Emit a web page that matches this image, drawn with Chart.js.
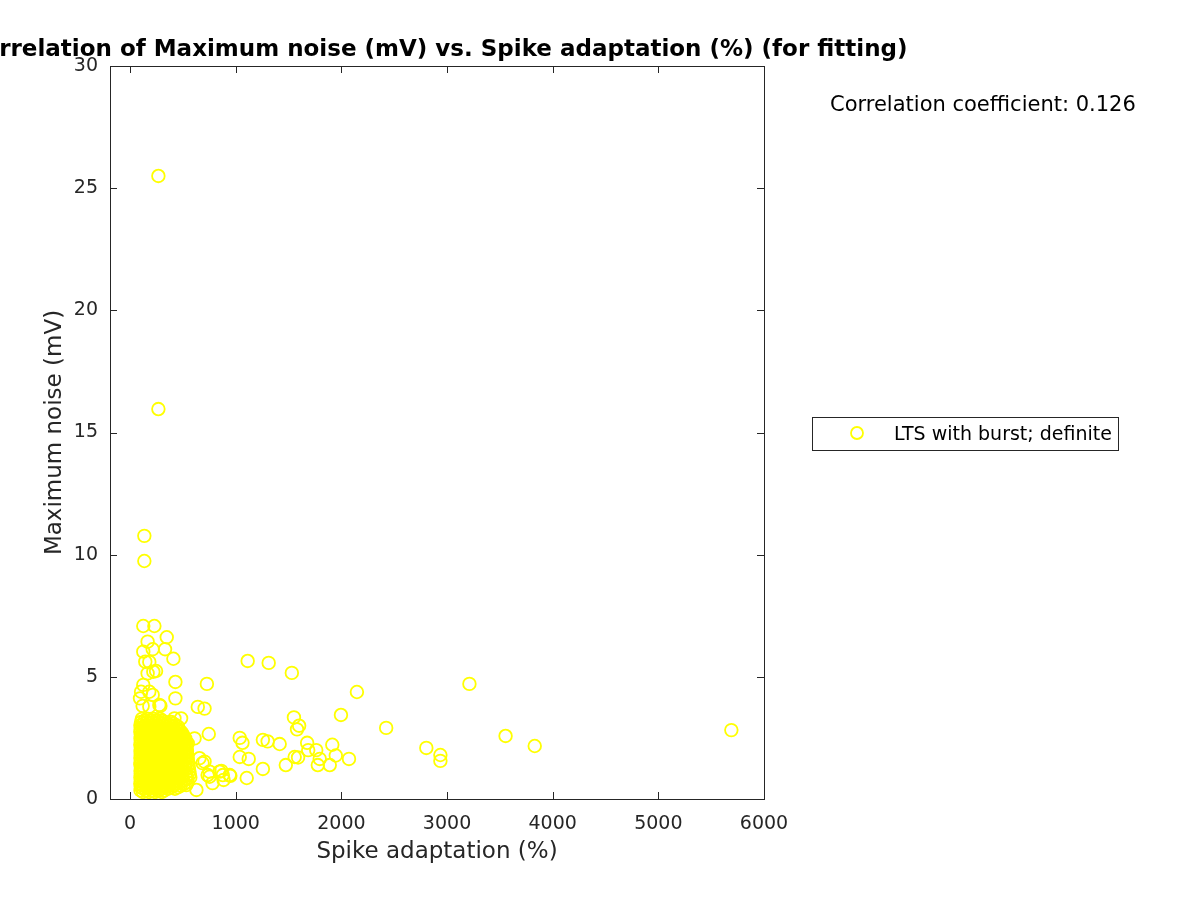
<!DOCTYPE html>
<html>
<head>
<meta charset="utf-8">
<script src="https://cdn.jsdelivr.net/npm/chart.js@4.4.0/dist/chart.umd.min.js"></script>
<style>
  html, body { margin: 0; padding: 0; background: #fff; }
  #wrap { width: 1200px; height: 900px; }
</style>
</head>
<body>
<div id="wrap"><canvas id="corrChart" width="1200" height="900"></canvas></div>
<script>
// axis setup
const xTicks = [0, 1000, 2000, 3000, 4000, 5000, 6000];
const yTicks = [0, 5, 10, 15, 20, 25, 30];
const xRange = [-190, 6000];
const yRange = [0, 30];

const titleText = 'Correlation of Maximum noise (mV) vs. Spike adaptation (%) (for fitting)';
const xLabel = 'Spike adaptation (%)';
const yLabel = 'Maximum noise (mV)';
const seriesLabel = 'LTS with burst; definite';
const corrText = 'Correlation coefficient: 0.126';

// scattered points
const outlierAdaptation = [
    268, 268, 135, 135, 125, 230, 347, 166, 331, 214,
    125, 410, 144, 182, 220, 166, 246, 429, 727, 125,
    104, 182, 214, 429, 94, 641, 705, 277, 119, 182,
    287, 1113, 1312, 1531, 2147, 3212, 1551, 1600, 1580, 1996,
    2424, 745, 1038, 1064, 1257, 1302, 1416, 1676, 1686, 1762,
    1914, 2804, 2937, 2937, 3554, 3830, 5691, 1038, 1123, 1474,
    1558, 1590, 1777, 1795, 1890, 1947, 2072, 1257, 1104, 943,
    885, 864, 780, 734, 686, 628, 420, 483, 610, 546,
    657, 705, 752, 847, 878, 752, 531, 277, 949
];
const outlierNoise = [
    25.5, 15.96, 10.77, 9.74, 7.08, 7.08, 6.62, 6.44, 6.13, 6.13,
    6.03, 5.74, 5.62, 5.61, 5.21, 5.14, 5.24, 4.79, 4.71, 4.67,
    4.39, 4.39, 4.26, 4.12, 4.12, 3.77, 3.70, 3.85, 3.81, 3.78,
    3.81, 5.65, 5.57, 5.16, 4.38, 4.71, 3.34, 3.00, 2.85, 3.44,
    2.91, 2.66, 2.50, 2.30, 2.42, 2.36, 2.25, 2.30, 2.00, 2.00,
    2.22, 2.09, 1.80, 1.56, 2.58, 2.17, 2.82, 1.72, 1.64, 1.39,
    1.72, 1.70, 1.39, 1.64, 1.39, 1.78, 1.64, 1.23, 0.86, 0.98,
    0.78, 1.15, 0.65, 0.98, 1.47, 0.37, 3.30, 3.30, 2.48, 2.28,
    1.67, 1.53, 1.12, 1.12, 0.98, 0.91, 0.57, 0.37, 0.95
];

// dense cluster near the origin, one row per noise level
const clusterNoise = [
    3.28, 3.21, 3.15, 3.08, 3.02, 2.95, 2.88, 2.82, 2.75, 2.68, 2.62, 2.55,
    2.48, 2.42, 2.35, 2.28, 2.22, 2.15, 2.08, 2.02, 1.95, 1.88, 1.82, 1.75,
    1.68, 1.62, 1.55, 1.48, 1.42, 1.35, 1.28, 1.22, 1.15, 1.08, 1.02, 0.95,
    0.88, 0.82, 0.75, 0.68, 0.62, 0.55, 0.48, 0.42, 0.35, 0.29
];
const clusterAdaptation = [
    [112, 168, 226, 282],
    [138, 196, 250, 305],
    [104, 160, 218, 272, 330, 388],
    [128, 184, 240, 297, 352, 410],
    [98, 150, 207, 263, 318, 376, 432],
    [122, 178, 234, 290, 346, 402, 455],
    [101, 155, 212, 268, 324, 380, 436],
    [127, 183, 240, 296, 352, 408, 462],
    [97, 148, 204, 259, 316, 372, 428, 482],
    [121, 176, 232, 288, 343, 399, 455, 495],
    [103, 157, 213, 270, 326, 382, 437, 488],
    [126, 182, 238, 293, 350, 405, 462, 510],
    [99, 151, 208, 263, 319, 375, 431, 486, 522],
    [123, 179, 235, 291, 347, 403, 458, 505],
    [102, 156, 211, 267, 323, 379, 434, 490, 528],
    [127, 183, 238, 294, 350, 406, 461, 515],
    [97, 150, 206, 262, 318, 374, 430, 485, 532],
    [121, 177, 233, 289, 345, 401, 457, 510],
    [103, 158, 214, 269, 325, 381, 437, 492, 535],
    [125, 181, 237, 292, 348, 404, 460, 518],
    [99, 152, 208, 264, 320, 376, 432, 487, 538],
    [122, 178, 234, 290, 346, 402, 458, 512],
    [101, 156, 212, 268, 324, 380, 436, 491, 540],
    [126, 182, 238, 294, 350, 406, 462, 520],
    [98, 150, 206, 262, 318, 374, 430, 486, 545],
    [123, 179, 235, 291, 347, 403, 459, 515],
    [102, 157, 213, 269, 325, 381, 437, 493, 548],
    [127, 183, 239, 295, 351, 407, 463, 522],
    [97, 151, 207, 263, 319, 375, 431, 488, 552],
    [121, 177, 233, 289, 345, 401, 457, 516],
    [103, 158, 214, 270, 326, 382, 438, 495, 556],
    [125, 181, 237, 293, 349, 405, 462, 525],
    [99, 152, 208, 264, 320, 376, 432, 490, 560],
    [122, 178, 234, 290, 346, 402, 459, 530],
    [101, 156, 212, 268, 324, 380, 437, 497, 565],
    [126, 182, 238, 294, 350, 407, 466, 535],
    [98, 150, 206, 262, 318, 375, 433, 494, 570],
    [123, 179, 235, 291, 347, 405, 465, 540],
    [102, 157, 213, 269, 325, 382, 442, 505],
    [127, 183, 239, 295, 352, 412, 475, 545],
    [97, 151, 207, 263, 320, 378, 440, 510],
    [121, 177, 233, 290, 348, 410, 480],
    [103, 158, 214, 270, 330, 392, 455],
    [125, 181, 238, 296, 358, 425],
    [99, 152, 208, 265, 325],
    [122, 178, 236, 300]
];

const markerColor = '#ffff00';
const axisColor = '#262626';
const fontFamily = '"DejaVu Sans", "Liberation Sans", sans-serif';

const points = [];
outlierAdaptation.forEach(function(x, i) {
    points.push({ x: x, y: outlierNoise[i] });
});
clusterNoise.forEach(function(y, r) {
    clusterAdaptation[r].forEach(function(x) {
        points.push({ x: x, y: y });
    });
});

// box, inward ticks, title, legend and the correlation note
const matlabDecor = {
    id: 'matlabDecor',
    afterDatasetsDraw(chart) {
        const ctx = chart.ctx;
        const a = chart.chartArea;
        const xs = chart.scales.x;
        const ys = chart.scales.y;
        const tickLen = 7;

        ctx.save();
        ctx.strokeStyle = axisColor;
        ctx.lineWidth = 1;
        ctx.strokeRect(a.left + 0.5, a.top + 0.5, a.right - a.left, a.bottom - a.top);

        ctx.beginPath();
        xTicks.forEach(function(v) {
            const px = Math.round(xs.getPixelForValue(v)) + 0.5;
            ctx.moveTo(px, a.bottom);
            ctx.lineTo(px, a.bottom - tickLen);
            ctx.moveTo(px, a.top);
            ctx.lineTo(px, a.top + tickLen);
        });
        yTicks.forEach(function(v) {
            const py = Math.round(ys.getPixelForValue(v)) + 0.5;
            ctx.moveTo(a.left, py);
            ctx.lineTo(a.left + tickLen, py);
            ctx.moveTo(a.right, py);
            ctx.lineTo(a.right - tickLen, py);
        });
        ctx.stroke();

        // title (wider than the canvas, so it is cut on the left)
        ctx.fillStyle = '#000';
        ctx.font = 'bold 23px ' + fontFamily;
        ctx.textAlign = 'center';
        ctx.textBaseline = 'alphabetic';
        ctx.fillText(titleText, (a.left + a.right) / 2, 56);

        ctx.font = '21px ' + fontFamily;
        ctx.textAlign = 'left';
        ctx.fillText(corrText, 830, 111);

        // legend
        ctx.strokeStyle = axisColor;
        ctx.lineWidth = 1;
        ctx.fillStyle = '#fff';
        ctx.fillRect(812.5, 417.5, 306, 33);
        ctx.strokeRect(812.5, 417.5, 306, 33);
        ctx.strokeStyle = markerColor;
        ctx.lineWidth = 1.8;
        ctx.beginPath();
        ctx.arc(857, 433, 6, 0, Math.PI * 2);
        ctx.stroke();
        ctx.fillStyle = '#000';
        ctx.font = '19px ' + fontFamily;
        ctx.fillText(seriesLabel, 894, 440);
        ctx.restore();
    }
};

function plainTick(value) {
    return String(value);
}

new Chart(document.getElementById('corrChart').getContext('2d'), {
    type: 'scatter',
    data: {
        datasets: [{
            label: seriesLabel,
            data: points,
            pointStyle: 'circle',
            pointRadius: 6.3,
            pointHoverRadius: 6.3,
            borderColor: markerColor,
            backgroundColor: 'transparent',
            borderWidth: 1.8
        }]
    },
    options: {
        responsive: false,
        animation: false,
        events: [],
        layout: {
            padding: { left: 0, right: 436, top: 66, bottom: 0 }
        },
        scales: {
            x: {
                type: 'linear',
                min: xRange[0],
                max: xRange[1],
                grid: { display: false, drawTicks: false },
                border: { display: false },
                afterBuildTicks: function(scale) {
                    scale.ticks = xTicks.map(function(v) { return { value: v }; });
                },
                afterFit: function(scale) { scale.height = 101; },
                ticks: {
                    color: axisColor,
                    padding: 14,
                    maxRotation: 0,
                    callback: plainTick,
                    font: { family: fontFamily, size: 19 }
                },
                title: {
                    display: true,
                    text: xLabel,
                    color: axisColor,
                    padding: { top: 0, bottom: 34 },
                    font: { family: fontFamily, size: 23 }
                }
            },
            y: {
                type: 'linear',
                min: yRange[0],
                max: yRange[1],
                grid: { display: false, drawTicks: false },
                border: { display: false },
                afterBuildTicks: function(scale) {
                    scale.ticks = yTicks.map(function(v) { return { value: v }; });
                },
                afterFit: function(scale) { scale.width = 110; },
                ticks: {
                    color: axisColor,
                    padding: 12,
                    callback: plainTick,
                    font: { family: fontFamily, size: 19 }
                },
                title: {
                    display: true,
                    text: yLabel,
                    color: axisColor,
                    padding: { top: 41, bottom: 0 },
                    font: { family: fontFamily, size: 23 }
                }
            }
        },
        plugins: {
            legend: { display: false },
            tooltip: { enabled: false },
            title: { display: false }
        }
    },
    plugins: [matlabDecor]
});
</script>
</body>
</html>
